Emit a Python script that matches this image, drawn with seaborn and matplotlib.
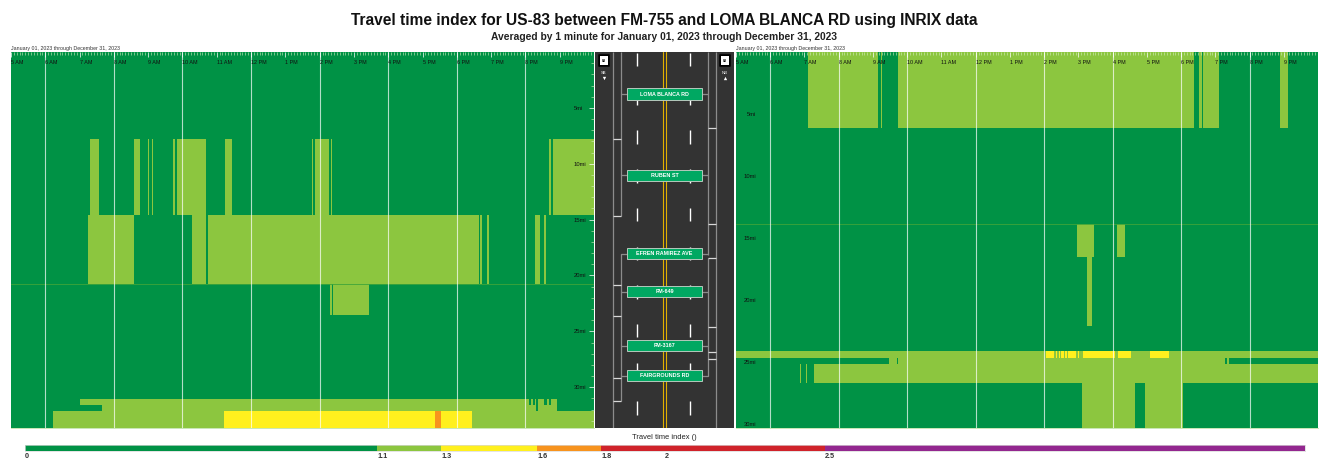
import numpy as np
import seaborn as sns
import matplotlib.pyplot as plt
from matplotlib.colors import BoundaryNorm, ListedColormap
from matplotlib.patches import FancyBboxPatch, Rectangle

W, H = 1321, 458
ROW_MILES = 0.05
N_MINUTES = 1020  # 5 AM to 10 PM

# travel time index classes
TTI_BREAKS = [0, 1.1, 1.3, 1.6, 1.8, 2.5, 4.0]
TTI_COLORS = ["#009245", "#8cc63f", "#fff01e", "#f7931e", "#d0232a", "#93278f"]
LEGEND_TICKS = [0, 1.1, 1.3, 1.6, 1.8, 2, 2.5]
OK, SLOW, BAD, WORSE = 1.0, 1.2, 1.4, 1.7

HOUR_LABELS = ["5 AM", "6 AM", "7 AM", "8 AM", "9 AM", "10 AM", "11 AM", "12 PM", "1 PM",
               "2 PM", "3 PM", "4 PM", "5 PM", "6 PM", "7 PM", "8 PM", "9 PM"]
MILE_TICKS = [5, 10, 15, 20, 25, 30]

# left panel (SB): (mile from, mile to, [(minute from, minute to, tti), ...])
SB_MILES = 33.66
SB_BANDS = [
    (7.73, 14.6, [(137.6, 153.7, SLOW), (216, 225.5, SLOW), (240, 241, SLOW), (247, 248, SLOW),
                  (283, 287, SLOW), (290.6, 342, SLOW), (374, 386, SLOW), (526, 529, SLOW),
                  (532, 556, SLOW), (559, 562, SLOW), (941, 944, SLOW), (948, 1020, SLOW)]),
    (14.6, 20.78, [(133.6, 214.8, SLOW), (317.4, 342, SLOW), (344, 815, SLOW), (816, 818.5, SLOW),
                   (820, 824, SLOW), (832, 835.5, SLOW), (917, 926, SLOW), (931.5, 936, SLOW)]),
    (20.78, 23.5, [(558, 562, SLOW), (564, 625.5, SLOW)]),
    (31.07, 31.6, [(121, 907, SLOW), (910, 914, SLOW), (917, 919, SLOW), (922, 932, SLOW),
                   (937, 941, SLOW), (944, 956, SLOW)]),
    (31.6, 32.1, [(160, 919, SLOW), (922, 956, SLOW)]),
    (32.1, 33.66, [(74.5, 372, SLOW), (372, 742, BAD), (742, 752, WORSE), (752, 806, BAD),
                   (806, 1020, SLOW)]),
]
SB_SEAM = 20.78

# right panel (NB)
NB_MILES = 30.3
NB_BANDS = [
    (0, 6.1, [(126.5, 247.8, SLOW), (254.3, 256.3, SLOW), (284, 802, SLOW), (812, 817, SLOW),
              (818, 847, SLOW), (953, 968, SLOW)]),
    (13.84, 16.5, [(597.5, 628.5, SLOW), (667.6, 681, SLOW)]),
    (16.5, 22.07, [(616, 623.8, SLOW)]),
    (24.09, 24.65, [(0, 1020, SLOW), (543, 557, BAD), (561, 563, BAD), (566, 568, BAD),
                    (569.6, 573.6, BAD), (576.6, 579.5, BAD), (582, 595, BAD), (598.7, 601, BAD),
                    (607.5, 664, BAD), (669, 693, BAD), (725.6, 757.6, BAD)]),
    (24.65, 25.17, [(268, 275, SLOW), (276.5, 283, SLOW), (284.5, 857, SLOW), (860, 864, SLOW)]),
    (25.17, 26.67, [(112, 114.5, SLOW), (121.5, 125, SLOW), (137, 1020, SLOW)]),
    (26.67, 30.3, [(606, 699.3, SLOW), (716, 782.8, SLOW)]),
]
NB_SEAM = 13.84

# cross streets on the road schematic
STREETS = ["LOMA BLANCA RD", "RUBEN ST", "EFREN RAMIREZ AVE", "FM-649", "FM-3167", "FAIRGROUNDS RD"]
STREET_Y = [94, 175.5, 253.7, 291.7, 345.5, 375.5]


def px_axes(fig, x0, y0, x1, y1):
    return fig.add_axes([x0 / W, 1 - y1 / H, (x1 - x0) / W, (y1 - y0) / H])


def build_matrix(total_miles, bands):
    n_rows = int(round(total_miles / ROW_MILES))
    mat = np.full((n_rows, N_MINUTES), OK)
    for m0, m1, spans in bands:
        r0, r1 = int(round(m0 / ROW_MILES)), int(round(m1 / ROW_MILES))
        for t0, t1, val in spans:
            # at least two columns, one minute is under a pixel wide
            mat[r0:r1, int(round(t0)):max(int(round(t1)), int(round(t0)) + 2)] = val
    return mat


def draw_panel(ax, total_miles, bands, seam, side):
    cmap = ListedColormap(TTI_COLORS)
    norm = BoundaryNorm(TTI_BREAKS, cmap.N)
    sns.heatmap(build_matrix(total_miles, bands), ax=ax, cmap=cmap, norm=norm, cbar=False,
                xticklabels=False, yticklabels=False)
    ax.set_axisbelow(False)
    ax.axhline(seam / ROW_MILES, color="#3fa53a", lw=0.6)
    for minute in range(60, N_MINUTES, 120):
        ax.axvline(minute, color="white", alpha=0.7, lw=0.8)

    ax.xaxis.tick_top()
    ax.set_xticks(range(0, N_MINUTES, 60))
    ax.set_xticklabels(HOUR_LABELS, fontsize=3.9, ha="left", color="#111111")
    ax.set_xticks(range(0, N_MINUTES, 5), minor=True)
    ax.tick_params(axis="x", which="major", direction="in", length=3.5, width=0.5, color="white",
                   pad=-9.5)
    ax.tick_params(axis="x", which="minor", direction="in", length=2, width=0.4, color="#d6ecc0")

    if side == "right":
        ax.yaxis.tick_right()
    ax.set_yticks([m / ROW_MILES for m in MILE_TICKS])
    ax.set_yticklabels([f"{m}mi" for m in MILE_TICKS], fontsize=4.2, color="#111111", rotation=0)
    ax.set_yticks([m / ROW_MILES for m in range(1, int(total_miles) + 1)], minor=True)
    ax.tick_params(axis="y", which="major", direction="in", length=3.5, width=0.5, color="white",
                   pad=-14.5)
    ax.tick_params(axis="y", which="minor", direction="in", length=2, width=0.4, color="#d6ecc0")
    for spine in ax.spines.values():
        spine.set_visible(False)
    ax.spines["bottom"].set_visible(True)
    ax.spines["bottom"].set_color("#bfe3a8")
    ax.spines["bottom"].set_linewidth(0.6)


def draw_road(ax):
    ax.set_xlim(594, 736)
    ax.set_ylim(428, 52)
    ax.axis("off")
    ax.add_patch(Rectangle((595.3, 52), 138.7, 376, fc="#333333", ec="none"))
    grey = "#8c8c8c"

    # lane dashes and centre lines
    dash_tops = np.arange(53, 415, 38.7)
    for x in (636.7, 690):
        ax.vlines(np.full(len(dash_tops), x), dash_tops, dash_tops + 13.5, color="white", lw=1.0)
    for x in (662.7, 666):
        ax.plot([x, x], [52, 428], color="#e0b000", lw=0.8)

    # sensor segment lines
    ax.vlines([612.7, 716], 52, 428, color=grey, lw=0.9)
    ax.vlines(620.7, 52, 216, color=grey, lw=0.9)
    ax.vlines(620.7, 254, 401, color=grey, lw=0.9)
    ax.vlines(708, 52, 255, color=grey, lw=0.9)
    ax.vlines(708, 258, 376, color=grey, lw=0.9)
    ax.hlines([139, 216, 285, 315.7, 377.7, 401], 612.7, 620.7, color="#d8d8d8", lw=0.9)
    ax.hlines([128.3, 224.3, 258, 327, 352, 359], 708, 716, color="#d8d8d8", lw=0.9)

    for name, y in zip(STREETS, STREET_Y):
        ax.plot([620.7, 708], [y, y], color=grey, lw=0.9)
        ax.add_patch(Rectangle((627.3, y - 5.6), 74.4, 11.2, fc="#00a862", ec="#b5c9bd", lw=0.7, zorder=3))
        ax.text(664.5, y + 0.2, name, color="white", fontsize=3.9, fontweight="bold", ha="center",
                va="center", zorder=4)

    for x, label, marker in ((604, "SB", "v"), (725, "NB", "^")):
        ax.add_patch(FancyBboxPatch((x - 5, 55), 10, 11, boxstyle="round,pad=0.8", fc="black", ec="none"))
        ax.add_patch(Rectangle((x - 4, 56), 8, 9, fc="white", ec="none"))
        ax.text(x, 60.7, "83", fontsize=2.6, fontweight="bold", ha="center", va="center", color="black")
        ax.text(x, 72.7, label, fontsize=3, ha="center", va="center", color="white")
        ax.plot(x, 77.7, marker=marker, ms=2.4, color="white", mec="none")


sns.set_style("white")
plt.rcParams["font.family"] = ["Liberation Sans", "DejaVu Sans"]

fig = plt.figure(figsize=(W / 100, H / 100), dpi=100)

ax_left = px_axes(fig, 11, 52, 594, 428)
draw_panel(ax_left, SB_MILES, SB_BANDS, SB_SEAM, "right")
ax_right = px_axes(fig, 736, 52, 1318, 428)
draw_panel(ax_right, NB_MILES, NB_BANDS, NB_SEAM, "left")
ax_road = px_axes(fig, 594, 52, 736, 428)
draw_road(ax_road)

fig.text(664 / W, 1 - 20 / H, "Travel time index for US-83 between FM-755 and LOMA BLANCA RD using INRIX data",
         fontsize=11.2, fontweight="bold", ha="center", va="center", color="#111111")
fig.text(664 / W, 1 - 36.5 / H, "Averaged by 1 minute for January 01, 2023 through December 31, 2023",
         fontsize=7.4, fontweight="bold", ha="center", va="center", color="#222222")
for x in (11, 736):
    fig.text(x / W, 1 - 48.5 / H, "January 01, 2023 through December 31, 2023", fontsize=3.8,
             ha="left", va="center", color="#333333")
fig.text(664 / W, 1 - 437.5 / H, "Travel time index ()", fontsize=5.4, ha="center", va="center",
         color="#222222")

# colour scale
ax_scale = px_axes(fig, 25, 445, 1305, 451)
widths = np.diff(TTI_BREAKS)
ax_scale.barh(0, widths, left=TTI_BREAKS[:-1], height=1, color=TTI_COLORS, edgecolor="none")
ax_scale.set_xlim(0, 4)
ax_scale.set_ylim(-0.5, 0.5)
ax_scale.set_yticks([])
ax_scale.set_xticks(LEGEND_TICKS)
ax_scale.set_xticklabels([str(t) for t in LEGEND_TICKS], fontsize=5.2, fontweight="bold", ha="left",
                         color="#333333")
ax_scale.tick_params(axis="x", length=0, pad=1.5)
for spine in ax_scale.spines.values():
    spine.set_color("#d9d9d9")
    spine.set_linewidth(0.5)

fig.savefig("out.png", dpi=100)
plt.close(fig)
